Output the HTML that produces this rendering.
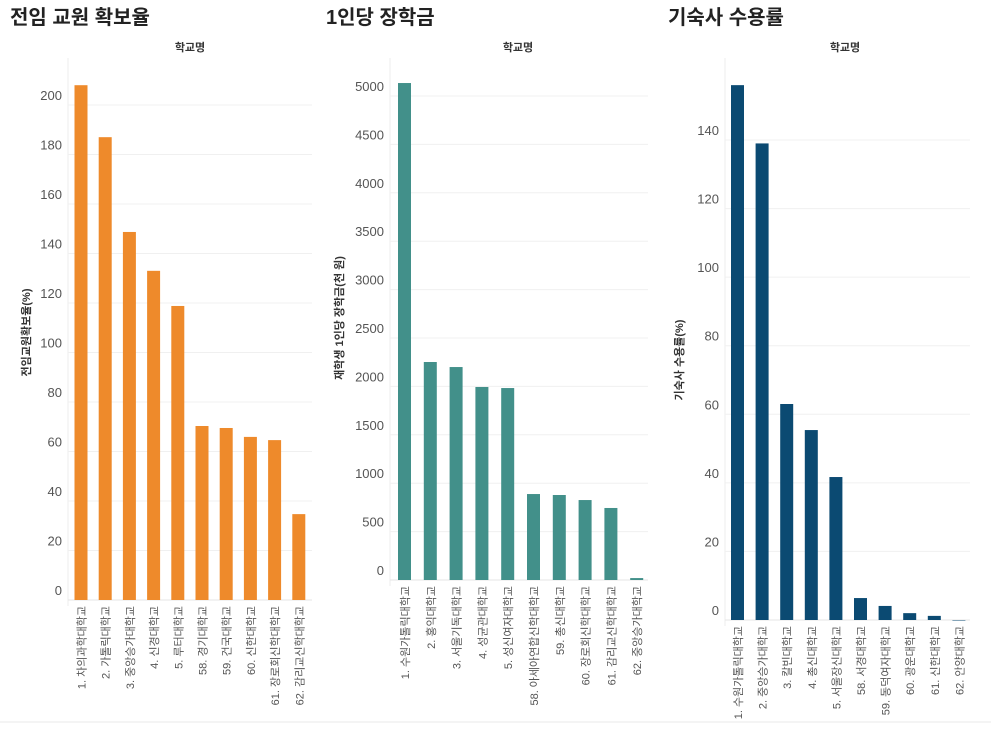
<!DOCTYPE html>
<html><head><meta charset="utf-8"><style>
body{margin:0;background:#fff;font-family:"Liberation Sans","Noto Sans CJK KR",sans-serif}
svg text{font-family:"Liberation Sans","Noto Sans CJK KR",sans-serif}
</style></head><body>
<svg id="s" width="991" height="725"></svg>
<script>
const cats1=["1. 차의과학대학교","2. 가톨릭대학교","3. 중앙승가대학교","4. 신경대학교","5. 루터대학교","58. 경기대학교","59. 건국대학교","60. 신한대학교","61. 장로회신학대학교","62. 감리교신학대학교"];
const vals1=[208,187,148.7,133,118.8,70.3,69.5,65.9,64.6,34.7];
const ticks1=[0,20,40,60,80,100,120,140,160,180,200];
const cats2=["1. 수원가톨릭대학교","2. 홍익대학교","3. 서울기독대학교","4. 성균관대학교","5. 성신여자대학교","58. 아세아연합신학대학교","59. 총신대학교","60. 장로회신학대학교","61. 감리교신학대학교","62. 중앙승가대학교"];
const vals2=[5134,2252,2200,1994,1983,888,878,826,744,20];
const ticks2=[0,500,1000,1500,2000,2500,3000,3500,4000,4500,5000];
const cats3=["1. 수원가톨릭대학교","2. 중앙승가대학교","3. 칼빈대학교","4. 총신대학교","5. 서울장신대학교","58. 서경대학교","59. 동덕여자대학교","60. 광운대학교","61. 신한대학교","62. 안양대학교"];
const vals3=[156,139,63,55.4,41.7,6.4,4.1,2,1.2,0];
const ticks3=[0,20,40,60,80,100,120,140];

const NS="http://www.w3.org/2000/svg",svg=document.getElementById('s');
function mk(t,a,p){const e=document.createElementNS(NS,t);for(const k in a)e.setAttribute(k,a[k]);(p||svg).appendChild(e);return e;}
const panels=[
 {title:"전임 교원 확보율",ytitle:"전임교원확보율(%)",cats:cats1,vals:vals1,ticks:ticks1,color:"#ee8a2b",x0:68,x1:312,first:81,step:24.2,zero:600,top:105,tmax:200,tx:62,ytx:30,titleX:10,hdrX:190,key:"faculty"},
 {title:"1인당 장학금",ytitle:"재학생 1인당 장학금(천 원)",cats:cats2,vals:vals2,ticks:ticks2,color:"#42908a",x0:390,x1:648,first:404.5,step:25.8,zero:580,top:96,tmax:5000,tx:384,ytx:343,titleX:326,hdrX:518,key:"scholarship"},
 {title:"기숙사 수용률",ytitle:"기숙사 수용률(%)",cats:cats3,vals:vals3,ticks:ticks3,color:"#0b4a72",x0:725,x1:970,first:737.5,step:24.6,zero:620,top:140,tmax:140,tx:719,ytx:683,titleX:668,hdrX:845,key:"dorm"}
];
panels.forEach(p=>{
 const g=mk('g',{});
 
 
 const y=v=>p.zero-(v/p.tmax)*(p.zero-p.top);
 const x=i=>p.first+i*p.step;
 const t=mk('text',{x:p.titleX,y:24,'font-size':20,'font-weight':'bold',fill:'#222'},g);t.textContent=p.title;
 
 const h=mk('text',{x:p.hdrX,y:51,'font-size':11,'font-weight':'bold',fill:'#333','text-anchor':'middle'},g);h.textContent="학교명";
 
 mk('line',{x1:p.x0,x2:p.x0,y1:58,y2:p.zero+6,stroke:'#eee'},g);
 p.ticks.forEach(v=>{
  const gl=mk('line',{x1:p.x0,x2:p.x1,y1:y(v),y2:y(v),stroke:'#f0f0f0'},g);
  
  const tl=mk('text',{x:p.tx,y:y(v)-5,'font-size':13,fill:'#555','text-anchor':'end'},g);tl.textContent=v;
  
 });
 mk('line',{x1:p.x0,x2:p.x1,y1:p.zero,y2:p.zero,stroke:'#e6e6e6'},g);
 const yt=mk('text',{transform:`translate(${p.ytx},${(p.top+p.zero)/2-20}) rotate(-90)`,'font-size':11,'font-weight':'bold',fill:'#333','text-anchor':'middle'},g);yt.textContent=p.ytitle;
 
 p.vals.forEach((v,i)=>{
  const r=mk('rect',{x:x(i)-6.5,y:y(v),width:13,height:Math.max(p.zero-y(v),0.5),fill:p.color},g);
  
  const l=mk('text',{transform:`translate(${x(i)+4.5},${p.zero+6}) rotate(-90)`,'font-size':11,fill:'#555','text-anchor':'end'},g);l.textContent=p.cats[i];
  
 });
});
mk('line',{x1:0,x2:991,y1:722,y2:722,stroke:'#e8e8e8'});
</script>
</body></html>
